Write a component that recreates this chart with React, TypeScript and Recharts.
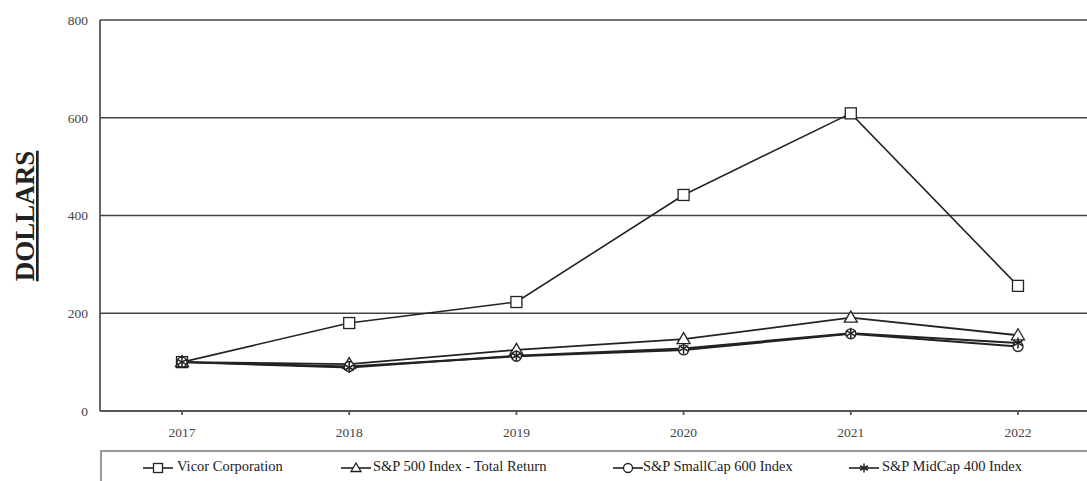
import React from "react";
import { CartesianGrid, Line, LineChart, XAxis, YAxis } from "recharts";

const years = ["2017", "2018", "2019", "2020", "2021", "2022"];
const vicor = [100, 180, 223, 442, 609, 256];
const sp500 = [100, 96, 125, 147, 191, 155];
const smallCap = [100, 91, 112, 125, 158, 132];
const midCap = [100, 89, 113, 128, 159, 139];
const yTicks = [0, 200, 400, 600, 800];

const data = years.map((year, i) => ({
  year,
  vicor: vicor[i],
  sp500: sp500[i],
  smallCap: smallCap[i],
  midCap: midCap[i],
}));

const FONT = '"Liberation Serif", "Times New Roman", serif';
const INK = "#222";

type MarkProps = { cx: number; cy: number; s?: number };

function Square({ cx, cy, s = 5.5 }: MarkProps) {
  return (
    <rect x={cx - s} y={cy - s} width={s * 2} height={s * 2} fill="#fff" stroke={INK} strokeWidth={1.3} />
  );
}

function Triangle({ cx, cy, s = 6.5 }: MarkProps) {
  return (
    <path
      d={`M${cx},${cy - s} L${cx + s},${cy + s * 0.7} L${cx - s},${cy + s * 0.7} Z`}
      fill="#fff"
      stroke={INK}
      strokeWidth={1.3}
    />
  );
}

function Ring({ cx, cy, s = 5 }: MarkProps) {
  return <circle cx={cx} cy={cy} r={s} fill="#fff" stroke={INK} strokeWidth={1.3} />;
}

function Star({ cx, cy, s = 5.5 }: MarkProps) {
  const d = s * 0.87;
  const h = s * 0.5;
  return (
    <g stroke={INK} strokeWidth={1.5}>
      <line x1={cx} y1={cy - s} x2={cx} y2={cy + s} />
      <line x1={cx - d} y1={cy - h} x2={cx + d} y2={cy + h} />
      <line x1={cx - d} y1={cy + h} x2={cx + d} y2={cy - h} />
    </g>
  );
}

const series = [
  { key: "vicor", name: "Vicor Corporation", Mark: Square, width: 1.6, iconX: 142, textX: 177 },
  { key: "sp500", name: "S&P 500 Index - Total Return", Mark: Triangle, width: 1.8, iconX: 340, textX: 373 },
  { key: "smallCap", name: "S&P SmallCap 600 Index", Mark: Ring, width: 2, iconX: 612, textX: 643 },
  { key: "midCap", name: "S&P MidCap 400 Index", Mark: Star, width: 2, iconX: 848, textX: 882 },
];

function YLabel() {
  return (
    <text
      x={0}
      y={0}
      transform="translate(34, 216) rotate(-90)"
      textAnchor="middle"
      fontFamily={FONT}
      fontWeight="bold"
      fontSize={27}
      fill={INK}
      textDecoration="underline"
    >
      DOLLARS
    </text>
  );
}

export default function App() {
  return (
    <div
      style={{
        position: "fixed",
        left: 0,
        top: 0,
        width: 1087,
        height: 481,
        overflow: "hidden",
        background: "#fff",
      }}
    >
      <LineChart width={1110} height={481} data={data} margin={{ top: 20, right: 10, left: 8, bottom: 0 }}>
        <CartesianGrid vertical={false} stroke="#444" strokeWidth={1.4} />
        <XAxis
          dataKey="year"
          height={70}
          padding={{ left: 82, right: 82 }}
          stroke="#555"
          strokeWidth={1.8}
          tickSize={4}
          tickMargin={12}
          tick={{ fill: "#444", fontSize: 13.5, fontFamily: FONT }}
        />
        <YAxis
          width={92}
          domain={[0, 800]}
          ticks={yTicks}
          stroke="#555"
          strokeWidth={1.8}
          tickLine={false}
          tickSize={0}
          tickMargin={12}
          tick={{ fill: "#444", fontSize: 13.5, fontFamily: FONT }}
          label={<YLabel />}
        />
        {series.map(({ key, name, Mark, width }) => (
          <Line
            key={key}
            dataKey={key}
            name={name}
            stroke={INK}
            strokeWidth={width}
            isAnimationActive={false}
            dot={(p: any) => <Mark key={`${key}-${p.index}`} cx={p.cx} cy={p.cy} />}
          />
        ))}
      </LineChart>
      <div
        style={{
          position: "absolute",
          left: 100,
          top: 450,
          width: 1100,
          height: 60,
          borderTop: "2px solid #999",
          borderLeft: "2px solid #999",
          fontFamily: FONT,
          fontSize: 14.5,
          color: INK,
        }}
      >
        {series.map(({ key, name, Mark, iconX, textX }) => (
          <React.Fragment key={key}>
            <svg
              width={32}
              height={16}
              style={{ position: "absolute", left: iconX - 102, top: 8 }}
            >
              <line x1={1} y1={8} x2={31} y2={8} stroke={INK} strokeWidth={1.6} />
              <Mark cx={16} cy={8} s={key === "sp500" ? 5 : 4.5} />
            </svg>
            <span style={{ position: "absolute", left: textX - 102, top: 6, whiteSpace: "nowrap" }}>{name}</span>
          </React.Fragment>
        ))}
      </div>
    </div>
  );
}
